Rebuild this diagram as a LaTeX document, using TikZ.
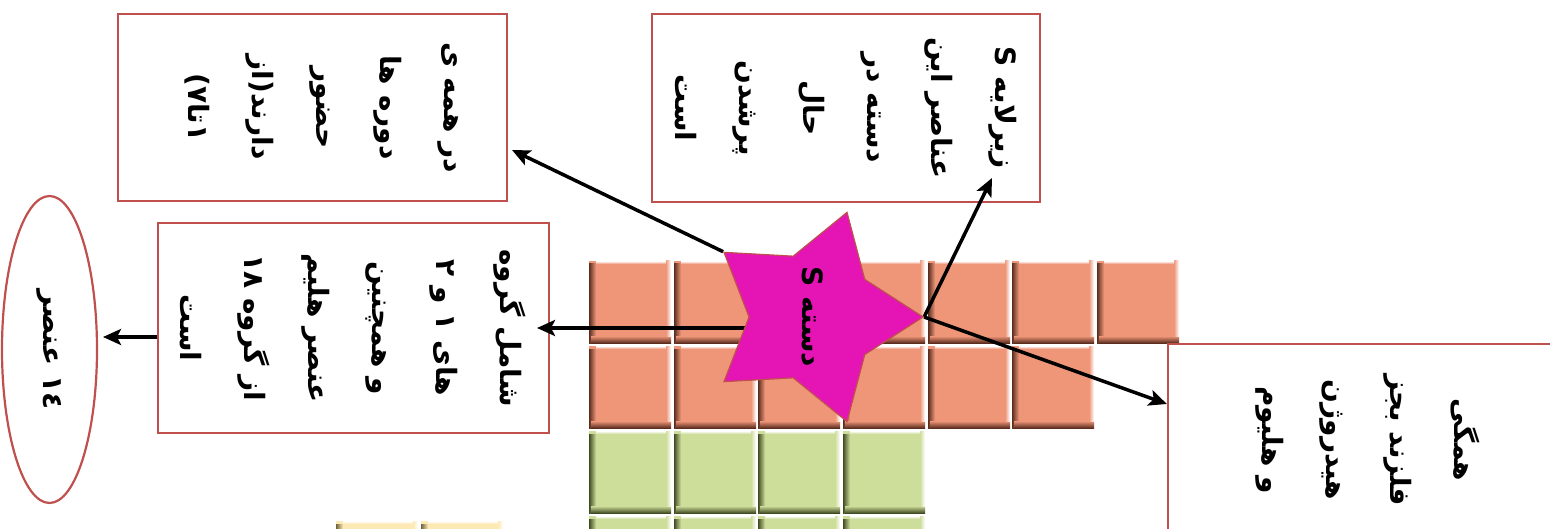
\documentclass[tikz,border=0pt]{standalone}
\usepackage{fontspec}
\usetikzlibrary{arrows.meta,shapes.geometric}
\TeXXeTstate=1
\newfontfamily\fafont[Script=Arabic]{DejaVu Sans}
\newcommand\faline[1]{\beginR #1\endR}
\definecolor{boxred}{RGB}{192,80,77}
\definecolor{starmag}{RGB}{229,20,180}
\definecolor{salm}{RGB}{239,150,121}
\definecolor{salmd}{RGB}{90,45,30}
\definecolor{grn}{RGB}{205,221,154}
\definecolor{grnd}{RGB}{65,75,35}
\definecolor{yel}{RGB}{253,233,180}
\definecolor{yeld}{RGB}{110,100,60}
\pgfdeclarelayer{bglayer}
\pgfdeclarelayer{tilelayer}
\pgfdeclarelayer{boxlayer}
\pgfdeclarelayer{arrowlayer}
\pgfsetlayers{bglayer,tilelayer,boxlayer,arrowlayer,main}
\newcommand\drawtile[4]{%
  \fill[#3] (#1,#2) rectangle ++(82,82);
  \shade[left color=#4, right color=#3] (#1,#2+3) rectangle ++(7,79);
  \shade[top color=#3, bottom color=#4] (#1+2,#2+75) rectangle ++(80,7);
  \shade[left color=#3, right color=white] (#1+77,#2) rectangle ++(5,75);
  \shade[top color=white, bottom color=#3] (#1+7,#2) rectangle ++(70,3);
}
\tikzset{
  fatext/.style={font=\fafont\bfseries\fontsize{28}{64}\selectfont, align=center},
  box/.style={draw=boxred, line width=2.2pt, fill=white, rectangle, inner sep=0pt, rotate=-90, fatext},
  ellbox/.style={draw=boxred, line width=2.2pt, fill=white, ellipse, inner sep=0pt, rotate=-90, fatext},
  starnode/.style={star, star points=5, star point ratio=1.72, minimum size=220pt, inner sep=0pt,
    fill=starmag, draw=boxred, line width=1.2pt, rotate=-90},
  plaintext/.style={rotate=-90, inner sep=0pt, fatext},
  arr/.style={line width=3.5pt, -{Stealth[length=18pt,width=16pt,inset=4pt]}},
}
\begin{document}
\begin{tikzpicture}[x=1pt,y=-1pt]
\useasboundingbox (0,0) rectangle (1550,529);
\begin{pgfonlayer}{bglayer}
\fill[white] (0,0) rectangle (1550,529);
\end{pgfonlayer}
\begin{pgfonlayer}{tilelayer}
\foreach \cx in {589,674,758,843,928,1012,1097} {\drawtile{\cx}{261}{salm}{salmd}}
\foreach \cx in {589,674,758,843,928,1012} {\drawtile{\cx}{346}{salm}{salmd}}
\foreach \cx in {589,674,758,843} {\drawtile{\cx}{431}{grn}{grnd}}
\foreach \cx in {589,674,758,843} {\drawtile{\cx}{516}{grn}{grnd}}
\foreach \cx in {336,421} {\drawtile{\cx}{521}{yel}{yeld}}
\end{pgfonlayer}

\begin{pgfonlayer}{boxlayer}
\node[box, minimum width=187pt, minimum height=389pt] (b1) at (312.5,107.5) {};
\node[plaintext] (b1t) at (322,107.5)
  {\faline{در همه ی}\\ \faline{دوره ها}\\ \faline{حضور}\\ \faline{دارند(از}\\ \faline{۱تا۷)}};
\node[box, minimum width=188pt, minimum height=388pt] (b2) at (846,108)
  {\faline{زیرلایه S}\\ \faline{عناصر این}\\ \faline{دسته در}\\ \faline{حال}\\ \faline{پرشدن}\\ \faline{است}};
\node[box, minimum width=210pt, minimum height=391pt] (b3) at (353.5,328)
  {\faline{شامل گروه}\\ \faline{های ۱ و ۲}\\ \faline{و همچنین}\\ \faline{عنصر هلیم}\\ \faline{از گروه ۱۸}\\ \faline{است}};
\node[box, minimum width=192pt, minimum height=400pt] (b5) at (1368,440)
  {\faline{همگی}\\ \faline{فلزند بجز}\\ \faline{هیدروژن}\\ \faline{و هلیوم}};
\node[ellbox, minimum width=307pt, minimum height=95pt] (ell) at (49.5,349.5) {\faline{۱٤ عنصر}};
\end{pgfonlayer}

\node[starnode] (star) at (813,317) {};
\node[plaintext] (stext) at (star.center) {\faline{دسته S}};

\coordinate (t1) at (512,150);
\coordinate (t2) at (992,178);
\coordinate (t3) at (537,328);
\coordinate (t4) at (103,337);
\begin{pgfonlayer}{arrowlayer}
\draw[arr] (star.outer point 3) -- (t1);
\draw[arr] (star.outer point 1) -- (t2);
\draw[arr] (star.outer point 1) -- (b5.south |- 0,404);
\draw[arr] (star.center |- 0,328) -- (t3);
\draw[arr] (b3.south |- 0,337) -- (t4);
\end{pgfonlayer}
\end{tikzpicture}
\end{document}
